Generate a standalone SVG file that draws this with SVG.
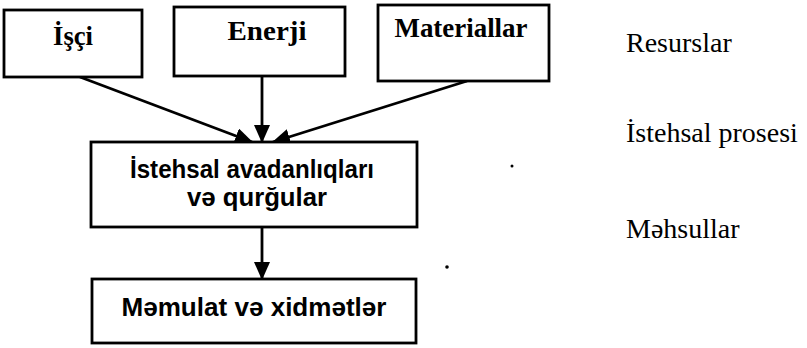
<svg xmlns="http://www.w3.org/2000/svg" width="807" height="348" viewBox="0 0 807 348">
<defs>
<style>
.box{fill:#fff;stroke:#000;stroke-width:2.8}
.top{font-family:"Liberation Serif","Times New Roman",serif;font-weight:bold;font-size:27px;fill:#000}
.mid{font-family:"Liberation Sans",Arial,sans-serif;font-weight:bold;font-size:25px;fill:#000}
.side{font-family:"Liberation Serif","Times New Roman",serif;font-size:28px;fill:#000}
.con{stroke:#000;stroke-width:2.8;fill:none}
</style>
<marker id="ah" viewBox="0 0 18 16" refX="17" refY="8" markerWidth="18" markerHeight="16" markerUnits="userSpaceOnUse" orient="auto">
<path d="M0,0 L18,8 L0,16 Z" fill="#000"/>
</marker>
</defs>
<rect width="807" height="348" fill="#fff"/>
<g id="connectors">
<line class="con" x1="80" y1="77" x2="252" y2="142" marker-end="url(#ah)"/>
<line class="con" x1="262" y1="76" x2="262" y2="142" marker-end="url(#ah)"/>
<line class="con" x1="467" y1="81" x2="273" y2="142" marker-end="url(#ah)"/>
<line class="con" x1="262" y1="227" x2="262" y2="279" marker-end="url(#ah)"/>
</g>
<g id="node-isci">
<rect class="box" x="4" y="10" width="138" height="67"/>
<text class="top" x="73" y="45" text-anchor="middle" textLength="40" lengthAdjust="spacingAndGlyphs">İşçi</text>
</g>
<g id="node-enerji">
<rect class="box" x="174" y="7" width="171" height="69"/>
<text class="top" x="267" y="40" text-anchor="middle" textLength="79" lengthAdjust="spacingAndGlyphs">Enerji</text>
</g>
<g id="node-materiallar">
<rect class="box" x="378" y="5" width="171" height="76"/>
<text class="top" x="461" y="37" text-anchor="middle" textLength="133" lengthAdjust="spacingAndGlyphs">Materiallar</text>
</g>
<g id="node-avadanliq">
<rect class="box" x="91" y="142" width="326" height="85"/>
<text class="mid" x="252" y="178" text-anchor="middle" textLength="244" lengthAdjust="spacingAndGlyphs">İstehsal avadanlıqları</text>
<text class="mid" x="257" y="206" text-anchor="middle" textLength="140" lengthAdjust="spacingAndGlyphs">və qurğular</text>
</g>
<g id="node-memulat">
<rect class="box" x="92" y="279" width="324" height="64"/>
<text class="mid" x="254" y="316" text-anchor="middle" textLength="265" lengthAdjust="spacingAndGlyphs">Məmulat və xidmətlər</text>
</g>
<g id="labels">
<text class="side" x="626" y="52">Resurslar</text>
<text class="side" x="626" y="142">İstehsal prosesi</text>
<text class="side" x="626" y="238">Məhsullar</text>
</g>
<circle cx="447" cy="267" r="1.8" fill="#000"/>
<circle cx="512" cy="166" r="1.5" fill="#000"/>
</svg>
